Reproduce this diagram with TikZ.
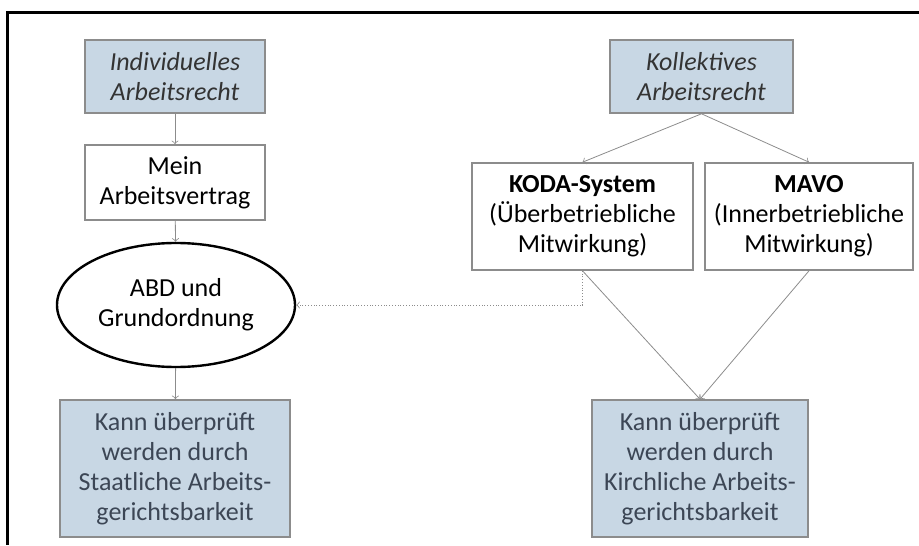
\documentclass[tikz,border=0pt]{standalone}
\usepackage{fontspec}
\setmainfont{Carlito}
\usetikzlibrary{shapes.geometric}
\definecolor{boxblue}{RGB}{200,215,228}
\definecolor{linegray}{RGB}{140,140,140}
\definecolor{textblue}{RGB}{60,70,85}
\begin{document}
\begin{tikzpicture}
      [x=0.5pt, y=-0.5pt, font=\fontsize{13}{15}\selectfont,
       box/.style={draw=linegray, thick, align=center, inner sep=1pt},
       bluebox/.style={box, fill=boxblue, text=textblue},
       link/.style={draw=linegray, ->}]
      \useasboundingbox (0,0) rectangle (919,545);
      \draw[line width=1.5pt] (919,13) -- (7,13) -- (7,545);
      \node[bluebox, minimum width=90pt, minimum height=36.5pt, text=black!80](1) at (175,76.5) {\textit{Individuelles}\\\textit{Arbeitsrecht}};
      \node[box, minimum width=90pt, minimum height=37.5pt](2) at (175,182.5) {Mein\\Arbeitsvertrag};
      \node[box, draw=black, line width=1.2pt, ellipse, minimum width=119pt, minimum height=62pt](3) at (176,305) {ABD und\\Grundordnung};
      \node[bluebox, minimum width=115pt, minimum height=68.5pt](4) at (175,468.5) {Kann überprüft\\werden durch\\Staatliche Arbeits-\\gerichtsbarkeit};
      \node[bluebox, minimum width=91.5pt, minimum height=36.5pt, text=black!80](5) at (701.5,76.5) {\textit{Kollektives}\\\textit{Arbeitsrecht}};
      \node[box, minimum width=110.5pt, minimum height=53.5pt](6) at (582.5,216.5) {\textbf{KODA-System}\\(Überbetriebliche\\Mitwirkung)};
      \node[box, minimum width=104pt, minimum height=53.5pt](7) at (809,216.5) {\textbf{MAVO}\\(Innerbetriebliche\\Mitwirkung)};
      \node[bluebox, minimum width=108pt, minimum height=68.5pt](8) at (700,468.5) {Kann überprüft\\werden durch\\Kirchliche Arbeits-\\gerichtsbarkeit};
      \draw[link](1) -- (2);
      \draw[link](2) -- (3);
      \draw[link](3) -- (4);
      \draw[link](5.south) -- (6.north);
      \draw[link](5.south) -- (7.north);
      \draw[link](6.south) -- (8.north);
      \draw[link](7.south) -- (8.north);
      \draw[link, densely dotted](6.south) |- (3.east);
  \end{tikzpicture}
\end{document}
